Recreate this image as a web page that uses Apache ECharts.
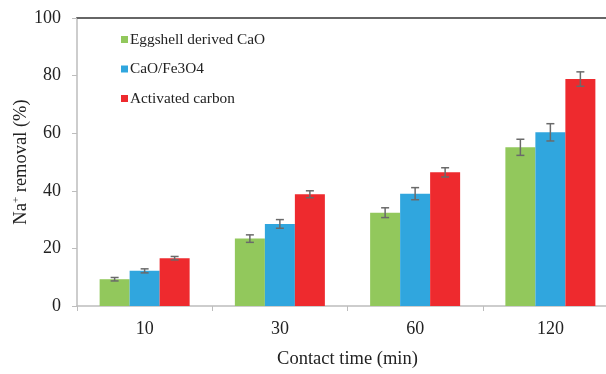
<!DOCTYPE html>
<html>
<head>
<meta charset="utf-8">
<script src="https://cdn.jsdelivr.net/npm/echarts@6/dist/echarts.min.js"></script>
<style>
  html, body { margin: 0; padding: 0; background: #fff; }
  #chart { width: 606px; height: 374px; }
</style>
</head>
<body>
<div id="chart"></div>
<script>
// Contact time categories (min)
const categories = ['10', '30', '60', '120'];
const seriesNames = ['Eggshell derived CaO', 'CaO/Fe3O4', 'Activated carbon'];

// Na+ removal (%) per adsorbent
const eggshellCaO = [9.3, 23.4, 32.4, 55.1];
const caoFe3o4 = [12.2, 28.5, 39.0, 60.3];
const activatedCarbon = [16.6, 38.8, 46.4, 78.8];

// Standard deviations (error bar half-lengths)
const eggshellErr = [0.6, 1.3, 1.7, 2.8];
const caoFe3o4Err = [0.7, 1.5, 2.1, 3.0];
const activatedErr = [0.6, 1.2, 1.6, 2.5];

const yTicks = [0, 20, 40, 60, 80, 100];

const colors = ['#92c85c', '#30a6de', '#ee2a2e'];
const values = [eggshellCaO, caoFe3o4, activatedCarbon];
const errors = [eggshellErr, caoFe3o4Err, activatedErr];

const BAR_W = 30;
const FONT = '"Liberation Serif", "Times New Roman", serif';

const chart = echarts.init(document.getElementById('chart'), null, { renderer: 'canvas' });

function errorSeries(idx) {
  const data = values[idx].map((v, i) => [i, v - errors[idx][i], v + errors[idx][i]]);
  const offset = (idx - 1) * BAR_W;
  return {
    type: 'custom',
    name: seriesNames[idx] + ' error',
    z: 10,
    silent: true,
    encode: { x: 0, y: [1, 2] },
    data: data,
    renderItem: function (params, api) {
      const lo = api.coord([api.value(0), api.value(1)]);
      const hi = api.coord([api.value(0), api.value(2)]);
      const x = lo[0] + offset;
      const cap = 4;
      const style = { stroke: '#6a6a6a', lineWidth: 1.5 };
      return {
        type: 'group',
        children: [
          { type: 'line', shape: { x1: x, y1: lo[1], x2: x, y2: hi[1] }, style: style },
          { type: 'line', shape: { x1: x - cap, y1: lo[1], x2: x + cap, y2: lo[1] }, style: style },
          { type: 'line', shape: { x1: x - cap, y1: hi[1], x2: x + cap, y2: hi[1] }, style: style }
        ]
      };
    }
  };
}

const barSeries = seriesNames.map((name, idx) => ({
  type: 'bar',
  name: name,
  data: values[idx],
  barWidth: BAR_W,
  barGap: '0%',
  itemStyle: { color: colors[idx] },
  emphasis: { disabled: true }
}));

const option = {
  animation: false,
  backgroundColor: '#ffffff',
  textStyle: { fontFamily: FONT },
  // plot area runs past the right edge of the canvas
  grid: { left: 77, width: 541, top: 18, height: 288, containLabel: false, outerBoundsMode: 'none' },
  legend: {
    data: seriesNames,
    orient: 'vertical',
    left: 116,
    top: 27,
    itemWidth: 7,
    itemHeight: 7,
    itemGap: 14.5,
    icon: 'rect',
    textStyle: { fontFamily: FONT, fontSize: 15.3, color: '#222', padding: [0, 0, 0, -3] }
  },
  xAxis: [
    {
      type: 'category',
      data: categories,
      name: 'Contact time (min)',
      nameLocation: 'middle',
      nameGap: 44,
      nameMoveOverlap: false,
      nameTextStyle: { fontFamily: FONT, fontSize: 18.5, color: '#222' },
      axisLine: { show: true, lineStyle: { color: '#bdbdbd', width: 1.5 } },
      axisTick: { show: true, length: 5, lineStyle: { color: '#bdbdbd' } },
      axisLabel: { fontFamily: FONT, fontSize: 18, color: '#222', margin: 14 },
      splitLine: { show: false }
    },
    {
      type: 'category',
      data: categories,
      position: 'top',
      axisLine: { show: true, lineStyle: { color: '#666', width: 2 } },
      axisTick: { show: false },
      axisLabel: { show: false },
      splitLine: { show: false }
    }
  ],
  yAxis: {
    type: 'value',
    min: yTicks[0],
    max: yTicks[yTicks.length - 1],
    interval: yTicks[1] - yTicks[0],
    name: 'Na{sup|+} removal (%)',
    nameLocation: 'middle',
    nameRotate: 90,
    nameGap: 46,
    nameMoveOverlap: false,
    nameTextStyle: {
      fontFamily: FONT, fontSize: 18.5, color: '#222',
      rich: { sup: { fontFamily: FONT, fontSize: 11, color: '#222', verticalAlign: 'bottom', padding: [0, 0, 9, 0] } }
    },
    axisLine: { show: true, lineStyle: { color: '#bdbdbd', width: 1.5 } },
    axisTick: { show: true, length: 5, lineStyle: { color: '#bdbdbd' } },
    axisLabel: { fontFamily: FONT, fontSize: 18, color: '#222', margin: 16 },
    splitLine: { show: false }
  },
  series: barSeries.concat([0, 1, 2].map(errorSeries))
};

chart.setOption(option);
</script>
</body>
</html>
